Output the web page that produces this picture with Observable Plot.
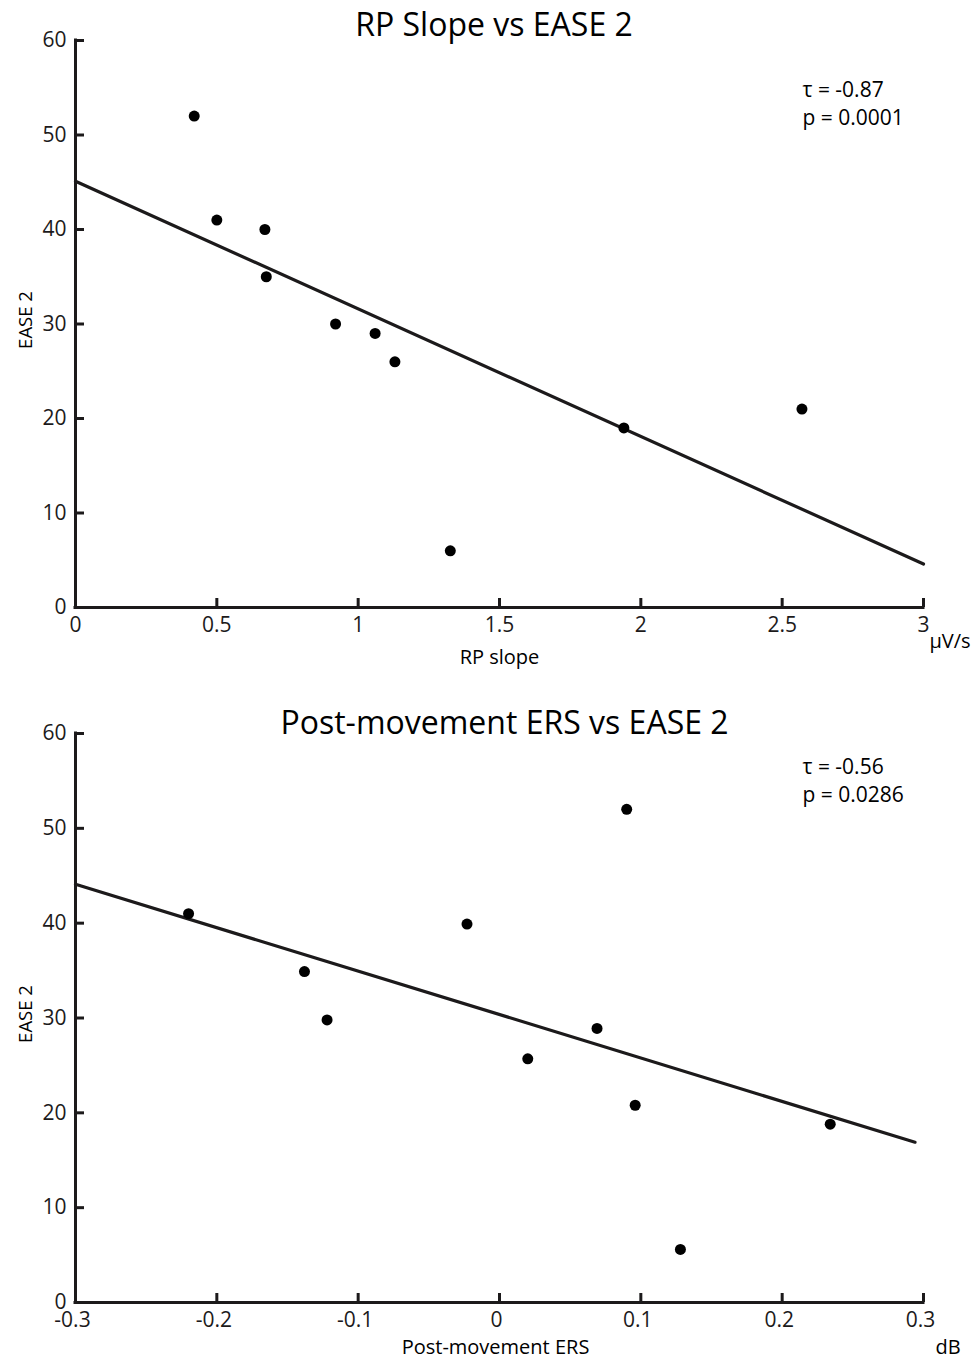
<!DOCTYPE html>
<html><head><meta charset="utf-8">
<script src="https://cdn.jsdelivr.net/npm/d3@7"></script>
<script src="https://cdn.jsdelivr.net/npm/@observablehq/plot@0.6"></script>
<style>body{margin:0;background:#fff} svg{display:block}</style>
</head><body><div id="c"></div>
<script>
// ---- Panel 1: RP slope vs EASE 2 ----
const rpSlope = [0.42, 0.50, 0.67, 0.675, 0.92, 1.06, 1.13, 1.326, 1.94, 2.57];
const rpEase  = [52, 41, 40, 35, 30, 29, 26, 6, 19, 21];
const rpFitX  = [0, 3];
const rpFitY  = [45.1, 4.6];
const rpXTicks = [0, 0.5, 1, 1.5, 2, 2.5, 3];

// ---- Panel 2: Post-movement ERS vs EASE 2 ----
const ersValue = [-0.220, -0.138, -0.122, -0.023, 0.020, 0.069, 0.090, 0.096, 0.128, 0.234];
const ersEase  = [41, 34.9, 29.8, 39.9, 25.7, 28.9, 52, 20.8, 5.6, 18.8];
const ersFitX  = [-0.3, 0.294];
const ersFitY  = [44.1, 16.9];
const ersXTicks = [-0.3, -0.2, -0.1, 0, 0.1, 0.2, 0.3];

const yTicks = [0, 10, 20, 30, 40, 50, 60];
const yDomain = [0, 60];

const ink = "#1c1a1b";
const W = 979, ML = 75, MR = 56;

function panel(cfg) {
  const pts = cfg.xs.map((x, i) => ({x, y: cfg.ys[i]}));
  const fit = cfg.fitX.map((x, i) => ({x, y: cfg.fitY[i]}));
  const plotW = W - ML - MR;
  const plotH = cfg.height - cfg.marginTop - cfg.marginBottom;
  return Plot.plot({
    width: W,
    height: cfg.height,
    marginTop: cfg.marginTop,
    marginBottom: cfg.marginBottom,
    marginLeft: ML,
    marginRight: MR,
    style: {fontFamily: "'Open Sans', sans-serif", fontSize: "20px", color: ink, background: "#fff", overflow: "visible"},
    x: {domain: [cfg.xTicks[0], cfg.xTicks[cfg.xTicks.length - 1]]},
    y: {domain: yDomain},
    marks: [
      Plot.ruleY(yTicks, {insetRight: plotW - 9, stroke: ink, strokeWidth: 3}),
      Plot.ruleX(cfg.xTicks, {insetTop: plotH - 9, stroke: ink, strokeWidth: 3}),
      Plot.ruleX([cfg.xTicks[0]], {stroke: ink, strokeWidth: 3, strokeLinecap: "square"}),
      Plot.ruleY([0], {stroke: ink, strokeWidth: 3, strokeLinecap: "square"}),
      Plot.axisX(cfg.xTicks, {tickSize: 0, tickPadding: 10, dx: cfg.xTickDx, tickFormat: d => String(d), fontSize: 21, fill: ink, label: null}),
      Plot.axisY(yTicks, {tickSize: 0, tickPadding: 9, fontSize: 21, fill: ink, label: null}),
      Plot.line(fit, {x: "x", y: "y", stroke: ink, strokeWidth: 3.2}),
      Plot.dot(pts, {x: "x", y: "y", r: 5.5, fill: "#000", stroke: null}),
      Plot.text([cfg.title], {text: d => d, frameAnchor: "top", dx: cfg.titleDx, dy: cfg.titleDy, lineAnchor: "bottom", fontSize: 32, fill: "#000"}),
      Plot.text([cfg.stats], {text: d => d, frameAnchor: "top-left", dx: 727, dy: cfg.statsDy, textAnchor: "start", lineAnchor: "bottom", lineHeight: 1.3, fontSize: 21, fill: "#000"}),
      Plot.text([cfg.xLabel], {text: d => d, frameAnchor: "bottom", dx: cfg.xLabelDx, dy: cfg.xLabelDy, lineAnchor: "bottom", fontSize: 20, fill: "#000"}),
      Plot.text([cfg.unit], {text: d => d, frameAnchor: "bottom-right", dx: cfg.unitDx, dy: cfg.xLabelDy - cfg.unitUp, textAnchor: "start", lineAnchor: "bottom", fontSize: 20, fill: "#000"}),
      Plot.text(["EASE 2"], {text: d => d, frameAnchor: "left", dx: -44, dy: -4, rotate: -90, textAnchor: "middle", lineAnchor: "bottom", fontSize: 18.5, fill: "#000"})
    ]
  });
}

const c = document.getElementById("c");
c.append(panel({
  xs: rpSlope, ys: rpEase, fitX: rpFitX, fitY: rpFitY, xTicks: rpXTicks, xTickDx: 0,
  height: 680, marginTop: 40, marginBottom: 73,
  title: "RP Slope vs EASE 2", titleDx: -5.5, titleDy: -5,
  stats: "τ = -0.87\np = 0.0001", statsDy: 84,
  xLabel: "RP slope", xLabelDx: 0, xLabelDy: 56,
  unit: "μV/s", unitDx: 6, unitUp: 16
}));
c.append(panel({
  xs: ersValue, ys: ersEase, fitX: ersFitX, fitY: ersFitY, xTicks: ersXTicks, xTickDx: -3,
  height: 677, marginTop: 53, marginBottom: 55,
  title: "Post-movement ERS vs EASE 2", titleDx: 5, titleDy: 0,
  stats: "τ = -0.56\np = 0.0286", statsDy: 68,
  xLabel: "Post-movement ERS", xLabelDx: -4, xLabelDy: 51,
  unit: "dB", unitDx: 12, unitUp: 0
}));
</script></body></html>
